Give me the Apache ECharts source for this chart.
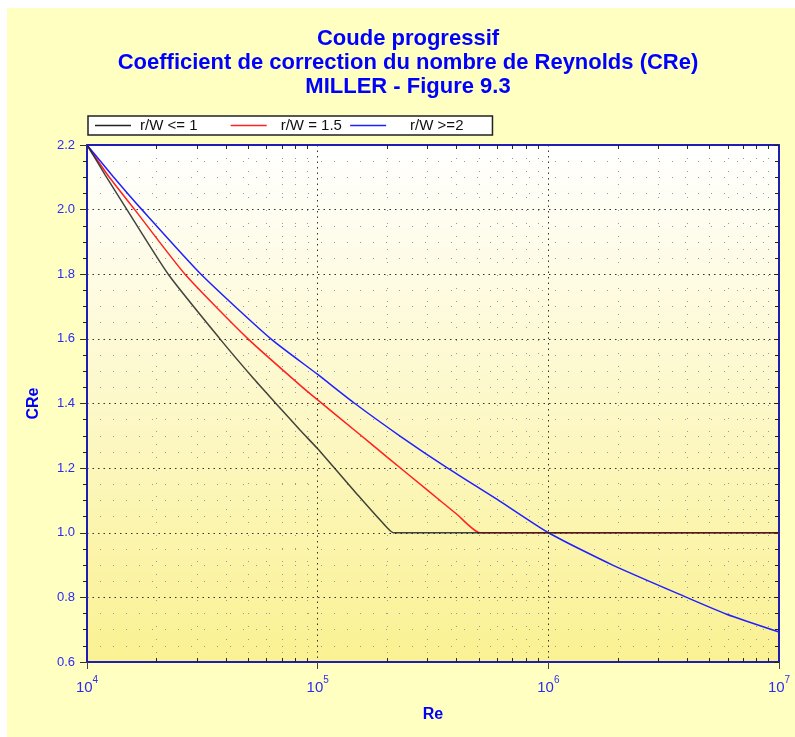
<!DOCTYPE html>
<html>
<head>
<meta charset="utf-8">
<script src="https://cdn.jsdelivr.net/npm/echarts@6/dist/echarts.min.js"></script>
<style>
html, body { margin: 0; padding: 0; background: #fff; }
#frame { position: absolute; left: 7px; top: 8px; width: 788px; height: 729px; background: #ffffc2; }
#chart { width: 788px; height: 729px; }
</style>
</head>
<body>
<div id="frame"><div id="chart"></div></div>
<script>
// valeurs (Re, CRe)
var seriesNames = ['r/W <= 1', 'r/W = 1.5', 'r/W >=2'];

var reBlack = [1e4, 1.2e4, 1.49e4, 2.25e4, 3.77e4, 5.26e4, 6.5e4, 8.4e4, 1e5, 1.5e5, 1.9e5, 2.13e5, 2.4e5, 1e7];
var crBlack = [2.2, 2.107, 2.0, 1.8, 1.6, 1.478, 1.405, 1.317, 1.26, 1.115, 1.033, 1.0, 1.0, 1.0];

var reRed = [1e4, 1.25e4, 1.61e4, 2.66e4, 4.99e4, 8.38e4, 1e5, 1.5e5, 2e5, 3e5, 4e5, 5.05e5, 5.8e5, 1e7];
var crRed = [2.2, 2.1, 2.0, 1.8, 1.6, 1.457, 1.411, 1.308, 1.234, 1.131, 1.058, 1.0, 1.0, 1.0];

var reBlue = [1e4, 1.3e4, 1.73e4, 3.12e4, 6.27e4, 1e5, 1.45e5, 2.3e5, 3.66e5, 6e5, 1e6, 1.9e6, 3.98e6, 5.93e6, 1e7];
var crBlue = [2.2, 2.102, 2.0, 1.8, 1.6, 1.49, 1.4, 1.297, 1.2, 1.103, 1.0, 0.9, 0.8, 0.748, 0.693];

var xMajor = [1e4, 1e5, 1e6, 1e7];
var xMinor = [];
[1e4, 1e5, 1e6].forEach(function (d) {
    for (var k = 2; k <= 9; k++) xMinor.push(k * d);
});

var yMin = 0.6, yMax = 2.2, yStep = 0.2;

function pairs(xs, ys) {
    return xs.map(function (x, i) { return [x, ys[i]]; });
}

var blue = '#2b2bf5';
var axisBlue = '#1e1eb4';
var txtFont = 'Liberation Sans, Arial, sans-serif';
var nb = '\u00a0';

var myChart = echarts.init(document.getElementById('chart'));

var option = {
    animation: false,
    textStyle: { fontFamily: txtFont },
    title: {
        text: 'Coude progressif\nCoefficient de correction du nombre de Reynolds (CRe)\nMILLER - Figure 9.3',
        left: 401,
        textAlign: 'center',
        top: 19,
        padding: 0,
        textStyle: {
            color: '#0000ff',
            fontSize: 22,
            fontWeight: 'bold',
            lineHeight: 24,
            fontFamily: txtFont
        }
    },
    legend: {
        left: 81,
        top: 108,
        orient: 'horizontal',
        backgroundColor: '#fff',
        borderColor: '#222',
        borderWidth: 1.5,
        borderRadius: 0,
        padding: [2, 29, 2, 7],
        icon: 'rect',
        itemWidth: 36,
        itemHeight: 1.5,
        itemGap: 4,
        data: [
            { name: seriesNames[0], textStyle: { padding: [0, 0, 0, 4] } },
            { name: seriesNames[1], textStyle: { padding: [0, 0, 0, 9] } },
            { name: seriesNames[2], textStyle: { padding: [0, 0, 0, 19] } }
        ],
        formatter: function (name) {
            var i = seriesNames.indexOf(name);
            var tail = ['', '', ''];
            tail[0] = nb + nb + nb + nb + nb + nb + nb;
            tail[1] = nb;
            return name + tail[i];
        },
        textStyle: { color: '#111', fontSize: 15 }
    },
    grid: {
        left: 80,
        top: 137,
        right: 16,
        bottom: 75,
        show: true,
        borderWidth: 0,
        backgroundColor: new echarts.graphic.LinearGradient(0, 0, 0, 1, [
            { offset: 0, color: '#ffffff' },
            { offset: 1, color: '#faf192' }
        ])
    },
    xAxis: [
        {
            type: 'log',
            logBase: 10,
            min: 1e4,
            max: 1e7,
            position: 'bottom',
            name: 'Re',
            nameLocation: 'middle',
            nameGap: 45,
            nameTextStyle: { color: '#0000ff', fontSize: 16, fontWeight: 'bold' },
            axisLine: { show: true, lineStyle: { color: axisBlue, width: 2 } },
            axisTick: { show: true, customValues: xMajor, length: 7, lineStyle: { color: '#444' } },
            axisLabel: {
                customValues: xMajor,
                margin: 13,
                formatter: function (v) {
                    return '{b|10}{s|' + Math.round(Math.log10(v)) + '}';
                },
                rich: {
                    b: { color: blue, fontSize: 15, lineHeight: 20, verticalAlign: 'bottom' },
                    s: { color: blue, fontSize: 10, lineHeight: 20, verticalAlign: 'top' }
                }
            },
            splitLine: { show: true, lineStyle: { color: '#333', type: [1.5, 4] } }
        },
        {
            type: 'log',
            logBase: 10,
            min: 1e4,
            max: 1e7,
            position: 'bottom',
            axisLine: { show: false },
            axisLabel: { show: false },
            axisTick: { show: true, customValues: xMinor, inside: true, length: 4, lineStyle: { color: '#222' } },
            splitLine: { show: true, lineStyle: { color: '#999', type: [1, 12] } }
        },
        {
            type: 'log',
            logBase: 10,
            min: 1e4,
            max: 1e7,
            position: 'top',
            axisLine: { show: true, lineStyle: { color: axisBlue, width: 2 } },
            axisLabel: { show: false },
            axisTick: { show: true, customValues: xMinor, inside: true, length: 4, lineStyle: { color: '#222' } },
            splitLine: { show: false }
        }
    ],
    yAxis: [
        {
            type: 'value',
            min: yMin,
            max: yMax,
            interval: yStep,
            name: 'CRe',
            nameLocation: 'middle',
            nameGap: 45,
            nameTextStyle: { color: '#0000ff', fontSize: 16, fontWeight: 'bold' },
            axisLine: { show: true, lineStyle: { color: axisBlue, width: 2 } },
            axisTick: { show: true, length: 7, lineStyle: { color: '#333' } },
            minorTick: { show: true, splitNumber: 4, length: 4, lineStyle: { color: '#222' } },
            axisLabel: {
                color: blue,
                fontSize: 13,
                margin: 12,
                formatter: function (v) { return v.toFixed(1); }
            },
            splitLine: { show: true, lineStyle: { color: '#333', type: [1.5, 4] } },
            minorSplitLine: { show: true, lineStyle: { color: '#999', type: [1, 12] } }
        },
        {
            type: 'value',
            min: yMin,
            max: yMax,
            interval: yStep,
            position: 'right',
            axisLine: { show: true, lineStyle: { color: axisBlue, width: 2 } },
            axisTick: { show: true, inside: true, length: 5, lineStyle: { color: '#222' } },
            minorTick: { show: true, splitNumber: 4, length: 4, lineStyle: { color: '#222' } },
            axisLabel: { show: false },
            splitLine: { show: false }
        }
    ],
    series: [
        {
            name: seriesNames[0],
            type: 'line',
            symbol: 'none',
            smooth: 0.2,
            z: 4,
            lineStyle: { color: '#222', width: 1.5, opacity: 0.85 },
            itemStyle: { color: '#222' },
            data: pairs(reBlack, crBlack)
        },
        {
            name: seriesNames[1],
            type: 'line',
            symbol: 'none',
            smooth: 0.2,
            z: 3,
            lineStyle: { color: '#ff2020', width: 1.5 },
            itemStyle: { color: '#ff2020' },
            data: pairs(reRed, crRed)
        },
        {
            name: seriesNames[2],
            type: 'line',
            symbol: 'none',
            smooth: 0.2,
            z: 3,
            lineStyle: { color: '#2020ff', width: 1.5 },
            itemStyle: { color: '#2020ff' },
            data: pairs(reBlue, crBlue)
        }
    ]
};
myChart.setOption(option);

window.addEventListener('resize', function () {
    myChart.resize();
});
</script>
</body>
</html>
